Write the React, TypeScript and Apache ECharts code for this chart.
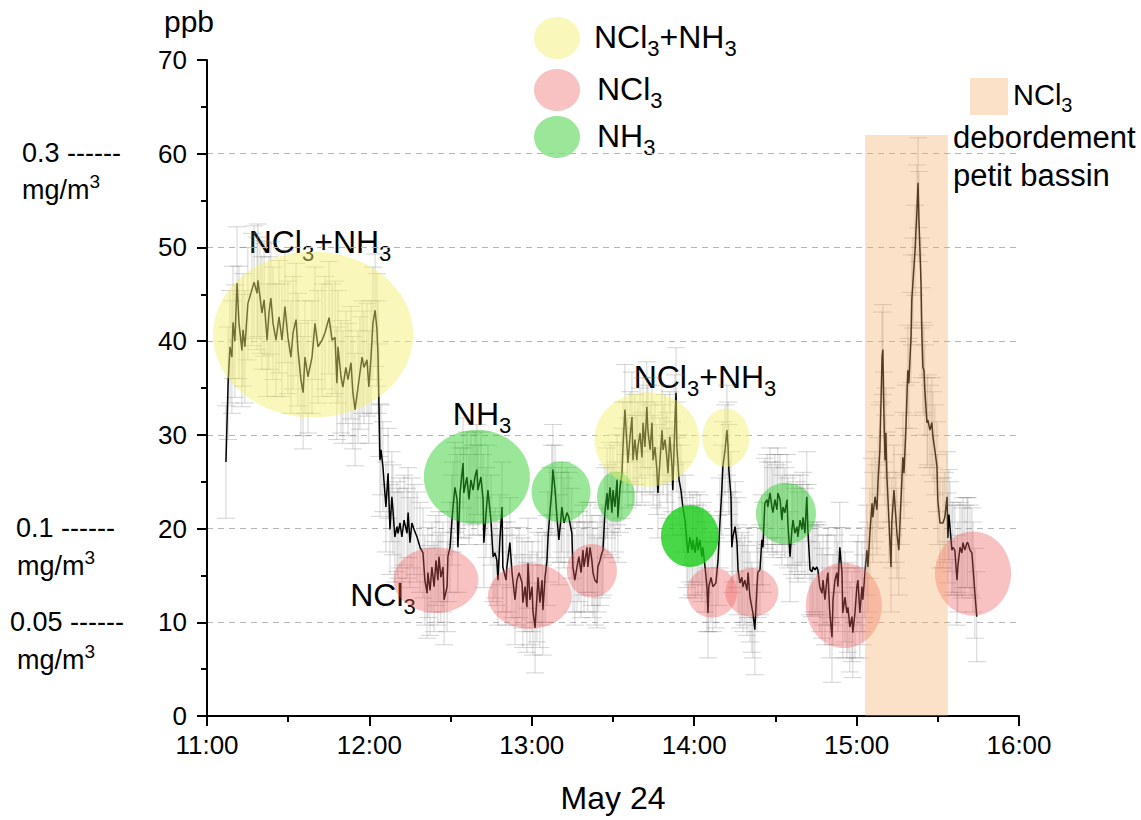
import React, { useEffect, useRef } from "react";
import * as echarts from "echarts";

// minutes after 11:00
const timeMin = [
  7.0, 7.8, 8.5, 9.2, 9.6, 10.3, 11.1, 11.8, 12.9, 13.3, 14.0, 15.1, 16.6, 17.4, 18.5, 18.8, 19.6, 20.3, 21.1, 22.2,
  22.9, 23.6, 24.4, 25.5, 26.6, 27.7, 28.8, 29.9, 31.0, 31.8, 32.9, 33.6, 34.7, 35.5, 36.2, 37.3, 38.8, 39.9, 41.0, 42.5,
  43.6, 45.1, 46.2, 47.3, 48.0, 48.4, 49.5, 50.2, 51.3, 52.1, 53.2, 53.9, 54.7, 55.8, 56.5, 57.3, 58.0, 59.1, 59.8, 60.6,
  61.3, 62.1, 62.8, 63.2, 63.5, 63.9, 64.3, 65.0, 66.1, 66.9, 67.6, 68.3, 68.7, 69.4, 70.2, 70.6, 71.3, 72.0, 72.8, 73.9,
  74.3, 75.0, 75.7, 76.5, 77.6, 78.7, 79.8, 80.5, 81.3, 81.6, 82.4, 83.1, 83.9, 84.6, 85.3, 85.7, 86.4, 87.2, 87.6, 88.7,
  89.0, 89.8, 90.5, 90.9, 91.6, 92.4, 92.7, 93.5, 94.6, 94.9, 96.0, 96.8, 97.5, 98.3, 99.0, 99.7, 100.1, 101.2, 102.0, 102.3,
  103.1, 103.8, 104.9, 105.7, 106.4, 107.1, 107.5, 108.2, 109.0, 109.3, 110.5, 110.8, 111.9, 112.7, 113.8, 114.5, 115.3, 116.4, 116.7, 117.5,
  118.2, 118.6, 119.3, 120.1, 120.4, 121.2, 121.9, 122.3, 123.0, 123.8, 124.1, 124.9, 125.6, 126.0, 126.7, 127.4, 127.8, 128.6, 129.3, 130.0,
  130.8, 131.1, 131.9, 133.0, 133.7, 134.8, 135.2, 135.9, 136.7, 137.4, 138.2, 138.9, 139.3, 140.4, 140.7, 141.5, 142.2, 142.6, 143.3, 144.1,
  144.4, 145.2, 145.9, 146.3, 147.0, 147.8, 148.1, 148.9, 149.6, 150.0, 150.7, 151.5, 151.8, 152.6, 153.3, 153.7, 154.4, 155.2, 155.5, 156.3,
  157.0, 157.4, 158.1, 158.8, 159.2, 160.0, 160.7, 161.1, 161.8, 162.5, 162.9, 163.7, 164.4, 164.8, 165.5, 166.2, 166.6, 167.3, 168.1, 168.5,
  169.2, 169.9, 170.3, 171.0, 171.8, 172.1, 172.9, 173.3, 173.6, 174.4, 175.1, 175.8, 176.6, 177.3, 177.7, 178.4, 179.2, 179.5, 180.3, 181.0,
  181.4, 182.1, 182.8, 183.2, 184.0, 184.7, 185.1, 185.4, 186.2, 186.9, 188.0, 188.8, 189.5, 190.2, 190.6, 191.4, 192.1, 192.5, 192.8, 193.6,
  193.9, 194.3, 195.1, 195.8, 196.2, 196.9, 197.6, 198.0, 198.7, 199.5, 199.9, 200.6, 201.3, 201.7, 202.4, 203.2, 203.5, 204.3, 205.0, 205.4,
  206.1, 206.9, 207.2, 208.0, 208.7, 209.1, 209.8, 210.6, 210.9, 211.7, 212.4, 212.8, 213.5, 214.3, 214.6, 215.4, 216.1, 216.5, 217.2, 218.0,
  218.3, 219.1, 219.8, 220.2, 220.9, 221.6, 222.0, 222.8, 223.5, 223.9, 224.6, 225.3, 225.7, 226.4, 227.2, 227.6, 228.3, 229.0, 229.4, 230.1,
  230.9, 231.3, 232.0, 232.7, 233.1, 233.8, 234.6, 234.9, 235.7, 236.4, 236.8, 237.5, 238.3, 238.6, 239.4, 240.1, 240.5, 241.2, 242.0, 242.3,
  243.1, 243.8, 244.2, 244.9, 245.7, 246.0, 246.8, 247.5, 247.9, 248.6, 249.4, 249.7, 250.1, 250.5, 250.8, 251.2, 251.9, 252.7, 253.0, 253.8,
  254.5, 254.9, 255.6, 256.4, 257.1, 257.5, 258.2, 258.9, 259.3, 260.1, 260.4, 260.8, 261.6, 262.3, 262.7, 263.0, 263.8, 264.1, 264.5, 264.9,
  265.2, 266.0, 266.3, 267.1, 267.8, 268.2, 268.9, 269.7, 270.0, 270.8, 271.9, 272.6, 273.4, 273.7, 274.1, 274.5, 275.2, 275.6, 276.3, 277.1,
  277.4, 278.2, 278.9, 279.3, 280.0, 280.8, 281.1, 281.9, 282.6, 283.0, 283.7, 284.4,
];

// concentration, ppb
const ppb = [
  27.1, 35.5, 39.4, 38.3, 42.0, 40.0, 46.2, 42.0, 39.0, 41.2, 39.4, 44.0, 45.5, 46.3, 45.1, 46.5, 44.7, 43.0, 44.4, 40.1,
  43.0, 44.6, 41.9, 40.1, 42.6, 40.1, 43.7, 40.4, 38.3, 40.9, 42.3, 39.1, 35.9, 34.5, 38.3, 36.2, 38.3, 41.9, 39.4, 40.1,
  40.9, 42.5, 40.1, 40.4, 35.5, 39.4, 36.2, 35.1, 37.2, 35.9, 37.7, 34.5, 32.7, 35.1, 36.6, 38.3, 37.2, 38.0, 35.1, 38.3,
  41.9, 43.3, 41.2, 38.3, 33.7, 27.3, 28.4, 26.6, 22.3, 25.9, 19.9, 23.4, 22.0, 19.1, 20.2, 19.5, 20.6, 19.1, 20.9, 19.5,
  21.7, 18.5, 20.6, 19.9, 19.1, 18.0, 17.4, 14.5, 13.1, 15.3, 13.4, 15.9, 13.8, 16.6, 14.5, 17.0, 14.8, 15.9, 12.4, 13.8,
  17.0, 18.0, 20.9, 22.3, 24.4, 23.1, 18.0, 23.8, 27.0, 23.8, 25.5, 23.1, 25.2, 24.1, 25.5, 26.3, 24.1, 25.5, 23.1, 18.5,
  21.7, 24.1, 20.9, 17.0, 17.4, 16.6, 14.5, 18.8, 22.3, 15.9, 14.5, 15.9, 18.5, 15.3, 12.4, 14.5, 15.3, 14.2, 12.1, 13.8,
  11.6, 16.3, 12.4, 13.8, 11.3, 9.4, 12.7, 14.8, 12.1, 14.5, 11.3, 14.8, 16.6, 19.1, 21.7, 24.1, 26.3, 24.1, 21.2, 18.8,
  21.2, 22.3, 20.6, 21.7, 21.2, 19.5, 15.9, 14.5, 15.9, 17.0, 15.3, 17.7, 15.9, 18.0, 15.9, 18.0, 16.6, 15.3, 14.5, 14.2,
  15.9, 16.6, 17.4, 17.7, 21.7, 23.8, 22.0, 24.4, 21.7, 24.1, 22.3, 25.2, 21.2, 24.4, 25.9, 28.7, 32.7, 28.7, 27.0, 29.8,
  31.9, 27.3, 29.5, 27.3, 28.7, 30.2, 27.6, 31.3, 28.7, 33.0, 30.5, 28.4, 31.3, 27.3, 28.7, 26.3, 23.8, 27.0, 30.5, 28.4,
  29.5, 27.6, 25.9, 29.8, 26.6, 24.1, 31.6, 34.5, 28.7, 25.2, 24.1, 22.3, 20.9, 18.5, 17.4, 19.1, 17.7, 18.8, 17.4, 19.1,
  17.7, 18.8, 17.0, 18.0, 15.9, 13.8, 11.0, 13.8, 14.8, 13.8, 14.2, 16.6, 20.6, 24.1, 26.6, 28.4, 30.5, 28.7, 26.3, 23.4,
  18.0, 19.1, 20.2, 18.5, 15.6, 14.2, 14.8, 13.8, 14.5, 13.4, 15.3, 12.7, 11.6, 11.0, 9.2, 13.8, 15.3, 15.6, 18.8, 18.0,
  22.7, 23.1, 22.3, 23.8, 22.3, 21.7, 23.1, 22.0, 23.8, 23.1, 20.9, 22.3, 21.7, 23.1, 20.6, 17.0, 19.9, 20.9, 19.5, 20.2,
  19.1, 20.9, 19.9, 21.2, 19.5, 23.4, 19.9, 15.6, 15.4, 15.9, 15.6, 15.9, 15.6, 13.8, 13.1, 14.5, 12.4, 14.5, 15.3, 11.0,
  8.4, 12.4, 14.5, 15.3, 13.8, 18.0, 15.3, 11.0, 12.7, 11.0, 11.6, 9.5, 10.6, 8.9, 11.0, 13.8, 14.5, 11.0, 13.8, 12.4,
  15.3, 17.7, 15.9, 19.5, 22.7, 21.2, 23.4, 22.0, 24.9, 28.4, 38.3, 39.1, 31.9, 27.3, 30.2, 25.5, 21.2, 15.9, 20.6, 24.1,
  21.2, 19.5, 17.7, 23.1, 27.6, 25.9, 30.5, 36.9, 35.5, 40.4, 44.4, 46.2, 49.7, 54.0, 56.9, 53.3, 46.2, 40.9, 37.2, 36.9,
  34.8, 31.3, 31.6, 30.5, 31.3, 29.8, 28.4, 26.6, 23.1, 20.6, 20.6, 21.2, 23.4, 19.0, 21.5, 20.2, 17.7, 18.0, 17.7, 14.5,
  15.9, 18.0, 17.4, 18.5, 17.7, 18.5, 18.5, 17.7, 17.4, 15.9, 13.1, 10.6,
];

// error bar half-widths (ppb), read per time segment
const errSegmentStartMin = [0, 64];
const errSegmentHalf = [6, 4.8];

// highlight ellipses: centre (min, ppb) and extent (min, ppb)
const hlTime = [39.2, 99.7, 84.6, 119.3, 130.8, 142.2, 151.1, 162.5, 178.4, 191.7, 186.6, 201.3, 213.9, 235.3, 283.0];
const hlPpb = [40.7, 25.5, 14.5, 12.8, 23.9, 15.5, 23.4, 29.5, 19.2, 29.7, 13.2, 13.2, 21.6, 11.8, 15.2];
const hlWidthMin = [73.9, 39.2, 31.4, 31.0, 21.8, 18.5, 14.0, 38.8, 21.4, 17.4, 18.5, 19.6, 22.2, 28.1, 28.1];
const hlHeightPpb = [17.7, 10.1, 7.0, 7.0, 6.5, 5.7, 5.4, 10.1, 6.6, 6.2, 5.4, 5.2, 6.6, 9.1, 9.0];
const hlKind = ["mix", "nh3", "ncl3", "ncl3", "nh3", "ncl3", "nh3", "mix", "nh3strong", "mix", "ncl3", "ncl3", "nh3", "ncl3", "ncl3"];

// overflow band (NCl3 débordement petit bassin)
const bandStartMin = [243.1];
const bandEndMin = [273.7];
const bandTopPpb = [62];

const FONT = '"Liberation Sans", Arial, Helvetica, sans-serif';

const kindColor: Record<string, string> = {
  mix: "rgba(245,238,110,0.47)",
  ncl3: "rgba(240,95,95,0.38)",
  nh3: "rgba(40,205,40,0.47)",
  nh3strong: "rgba(20,205,20,0.78)",
};

function errFor(t: number): number {
  let e = errSegmentHalf[0];
  for (let i = 0; i < errSegmentStartMin.length; i++) if (t >= errSegmentStartMin[i]) e = errSegmentHalf[i];
  return e;
}

let measureCtx: CanvasRenderingContext2D | null = null;
function textWidth(t: string, size: number): number {
  if (!measureCtx) measureCtx = document.createElement("canvas").getContext("2d");
  if (!measureCtx) return t.length * size * 0.55;
  measureCtx.font = `${size}px ${FONT}`;
  return measureCtx.measureText(t).width;
}

// "NCl_3+NH_3" -> NCl, sub 3, +NH, sub 3 ; "mg/m^3" -> superscript
function chem(x: number, y: number, label: string, size: number, align: "left" | "center" = "left") {
  const parts: Array<{ t: string; k: number }> = [];
  const re = /([_^])(\w)/g;
  let last = 0;
  let m: RegExpExecArray | null;
  while ((m = re.exec(label))) {
    if (m.index > last) parts.push({ t: label.slice(last, m.index), k: 0 });
    parts.push({ t: m[2], k: m[1] === "_" ? 1 : -1 });
    last = m.index + m[0].length;
  }
  if (last < label.length) parts.push({ t: label.slice(last), k: 0 });
  const small = Math.round(size * 0.7);
  const items = parts.map((p) => {
    const fs = p.k === 0 ? size : small;
    return { ...p, fs, w: textWidth(p.t, fs) };
  });
  const total = items.reduce((s, it) => s + it.w, 0);
  let cx = align === "center" ? x - total / 2 : x;
  const children = items.map((it) => {
    const dy = it.k === 1 ? size * 0.36 : it.k === -1 ? -size * 0.3 : 0;
    const el = {
      type: "text",
      x: cx,
      y: y + dy,
      style: { text: it.t, fontSize: it.fs, fontFamily: FONT, fill: "#000", align: "left", verticalAlign: "middle" },
    };
    cx += it.w;
    return el;
  });
  return { type: "group", z: 100, children };
}

function plainText(x: number, y: number, text: string, size: number) {
  return {
    type: "text",
    x,
    y,
    z: 100,
    style: { text, fontSize: size, fontFamily: FONT, fill: "#000", align: "left", verticalAlign: "middle" },
  };
}

export default function App() {
  const ref = useRef<HTMLDivElement>(null);

  useEffect(() => {
    if (!ref.current) return;
    const chart = echarts.init(ref.current, undefined, { renderer: "svg" });

    const lineData = timeMin.map((t, i) => [t, ppb[i]]);
    const errData = timeMin.map((t, i) => [t, ppb[i], errFor(t)]);
    const hlData = hlTime.map((t, i) => [t, hlPpb[i], hlWidthMin[i], hlHeightPpb[i], i]);
    const bandData = bandStartMin.map((s, i) => [s, bandEndMin[i], bandTopPpb[i]]);

    const option: any = {
      animation: false,
      backgroundColor: "#fff",
      grid: { left: 207, right: 122, top: 60, bottom: 104, containLabel: false },
      xAxis: {
        type: "value",
        min: 0,
        max: 300,
        interval: 60,
        name: "May 24",
        nameLocation: "middle",
        nameGap: 66,
        nameTextStyle: { fontSize: 32, fontFamily: FONT, color: "#000" },
        axisLine: { show: true, onZero: false, lineStyle: { color: "#000", width: 2 } },
        axisTick: { show: true, length: 10, lineStyle: { color: "#000", width: 2 } },
        minorTick: { show: true, splitNumber: 2, length: 6, lineStyle: { color: "#000", width: 2 } },
        splitLine: { show: false },
        axisLabel: {
          fontSize: 26,
          fontFamily: FONT,
          color: "#000",
          margin: 16,
          formatter: (v: number) => `${11 + Math.round(v / 60)}:00`,
        },
      },
      yAxis: {
        type: "value",
        min: 0,
        max: 70,
        interval: 10,
        name: "ppb",
        nameLocation: "end",
        nameGap: 24,
        nameTextStyle: { fontSize: 30, fontFamily: FONT, color: "#000", align: "center", padding: [0, 36, 0, 0] },
        axisLine: { show: true, onZero: false, lineStyle: { color: "#000", width: 2 } },
        axisTick: { show: true, length: 10, lineStyle: { color: "#000", width: 2 } },
        minorTick: { show: true, splitNumber: 2, length: 6, lineStyle: { color: "#000", width: 2 } },
        splitLine: {
          show: true,
          lineStyle: {
            type: [6, 5],
            width: 1,
            color: ["rgba(0,0,0,0)", "#b5b5b5", "#b5b5b5", "#b5b5b5", "#b5b5b5", "#b5b5b5", "#b5b5b5", "rgba(0,0,0,0)"],
          },
        },
        axisLabel: { fontSize: 26, fontFamily: FONT, color: "#000", margin: 20 },
      },
      series: [
        {
          type: "custom",
          name: "error",
          z: 1,
          silent: true,
          encode: { x: 0, y: 1 },
          data: errData,
          renderItem: (_p: any, api: any) => {
            const t = api.value(0);
            const v = api.value(1);
            const e = api.value(2);
            const top = api.coord([t, v + e]);
            const bot = api.coord([t, v - e]);
            const cap = 9;
            const style = { stroke: "rgba(120,120,120,0.33)", lineWidth: 1 };
            return {
              type: "group",
              children: [
                { type: "line", shape: { x1: top[0], y1: top[1], x2: bot[0], y2: bot[1] }, style },
                { type: "line", shape: { x1: top[0] - cap, y1: top[1], x2: top[0] + cap, y2: top[1] }, style },
                { type: "line", shape: { x1: bot[0] - cap, y1: bot[1], x2: bot[0] + cap, y2: bot[1] }, style },
              ],
            };
          },
        },
        {
          type: "line",
          name: "ppb",
          z: 3,
          data: lineData,
          showSymbol: false,
          symbol: "none",
          lineStyle: { color: "#000", width: 1.5 },
        },
        {
          type: "custom",
          name: "highlights",
          z: 5,
          silent: true,
          encode: { x: 0, y: 1 },
          data: hlData,
          renderItem: (_p: any, api: any) => {
            const c = api.coord([api.value(0), api.value(1)]);
            const s = api.size([api.value(2), api.value(3)]);
            const kind = hlKind[api.value(4)];
            return {
              type: "ellipse",
              shape: { cx: c[0], cy: c[1], rx: s[0] / 2, ry: s[1] / 2 },
              style: { fill: kindColor[kind], stroke: "none" },
            };
          },
        },
        {
          type: "custom",
          name: "band",
          z: 6,
          silent: true,
          encode: { x: [0, 1], y: 2 },
          data: bandData,
          renderItem: (_p: any, api: any) => {
            const a = api.coord([api.value(0), api.value(2)]);
            const b = api.coord([api.value(1), 0]);
            return {
              type: "rect",
              shape: { x: a[0], y: a[1], width: b[0] - a[0], height: b[1] - a[1] },
              style: { fill: "rgba(245,170,100,0.35)", stroke: "none" },
            };
          },
        },
      ],
      graphic: [
        // left-side concentration equivalents
        plainText(22, 153, "0.3 ------", 27),
        chem(22, 190, "mg/m^3", 27),
        plainText(16, 528, "0.1 ------", 27),
        chem(17, 566, "mg/m^3", 27),
        plainText(10, 622, "0.05 ------", 27),
        chem(17, 660, "mg/m^3", 27),
        // legend
        { type: "ellipse", shape: { cx: 557, cy: 38, rx: 23, ry: 21 }, style: { fill: kindColor.mix } },
        chem(594, 37, "NCl_3+NH_3", 32),
        { type: "ellipse", shape: { cx: 557, cy: 90, rx: 23, ry: 21 }, style: { fill: kindColor.ncl3 } },
        chem(597, 89, "NCl_3", 32),
        { type: "ellipse", shape: { cx: 557, cy: 137, rx: 23, ry: 21 }, style: { fill: kindColor.nh3 } },
        chem(597, 136, "NH_3", 32),
        { type: "rect", shape: { x: 970, y: 78, width: 38, height: 37 }, style: { fill: "rgba(245,170,100,0.35)" } },
        chem(1013, 95, "NCl_3", 29),
        plainText(953, 137, "debordement", 31),
        plainText(953, 175, "petit bassin", 31),
        // annotations
        chem(320, 242, "NCl_3+NH_3", 32, "center"),
        chem(482, 414, "NH_3", 32, "center"),
        chem(383, 595, "NCl_3", 32, "center"),
        chem(705, 377, "NCl_3+NH_3", 32, "center"),
      ],
    };

    chart.setOption(option);
    return () => chart.dispose();
  }, []);

  return <div ref={ref} style={{ position: "fixed", left: 0, top: 0, width: 1141, height: 820 }} />;
}
